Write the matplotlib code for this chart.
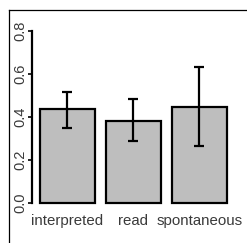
import matplotlib
matplotlib.use("Agg")
import matplotlib.pyplot as plt
from matplotlib.lines import Line2D

# datos
categorias = ["interpreted", "read", "spontaneous"]
medias = [0.437, 0.383, 0.447]
err_sup = [0.518, 0.482, 0.634]
err_inf = [0.350, 0.288, 0.267]
yticks = [0.0, 0.2, 0.4, 0.6, 0.8]

plt.rcParams['font.family'] = ['Liberation Sans', 'DejaVu Sans']

W, H = 247, 243
fig = plt.figure(figsize=(W / 100, H / 100), dpi=100)

# marco exterior (solo se ven izquierda y arriba)
fig.add_artist(Line2D([8.5 / W, 8.5 / W], [0, 1 - 10 / H], color="black", lw=0.9))
fig.add_artist(Line2D([8.5 / W, 1], [1 - 10 / H, 1 - 10 / H], color="black", lw=0.9))

ax = fig.add_axes([32 / W, 40 / H, (235 - 32) / W, 172 / H])
ax.patch.set_alpha(0)

x = [0.7 + 1.2 * i for i in range(len(categorias))]
ax.bar(x, medias, width=1.0, color="#bebebe", edgecolor="black", linewidth=1.6, clip_on=False)
yerr = [[m - lo for m, lo in zip(medias, err_inf)], [hi - m for m, hi in zip(medias, err_sup)]]
ax.errorbar(x, medias, yerr=yerr, fmt="none", ecolor="black", elinewidth=1.6,
            capsize=3.3, capthick=1.6, clip_on=False)

ax.set_xlim(0.055, 0.055 + (235 - 32) / 55)
ax.set_ylim(0, 0.8)
for s in ["top", "right", "bottom"]:
    ax.spines[s].set_visible(False)
ax.spines["left"].set_linewidth(1.6)
ax.set_yticks(yticks)
ax.set_yticklabels([f"{v:.1f}" for v in yticks], rotation=90, va="center")
ax.tick_params(axis="y", length=3, width=1.2, pad=0.5, labelsize=10.5, labelcolor="#3a3a3a")
ax.set_xticks(x)
ax.set_xticklabels(categorias)
ax.tick_params(axis="x", length=0, pad=8, labelsize=10.8, labelcolor="#3a3a3a")

fig.savefig("out.png", dpi=100)
